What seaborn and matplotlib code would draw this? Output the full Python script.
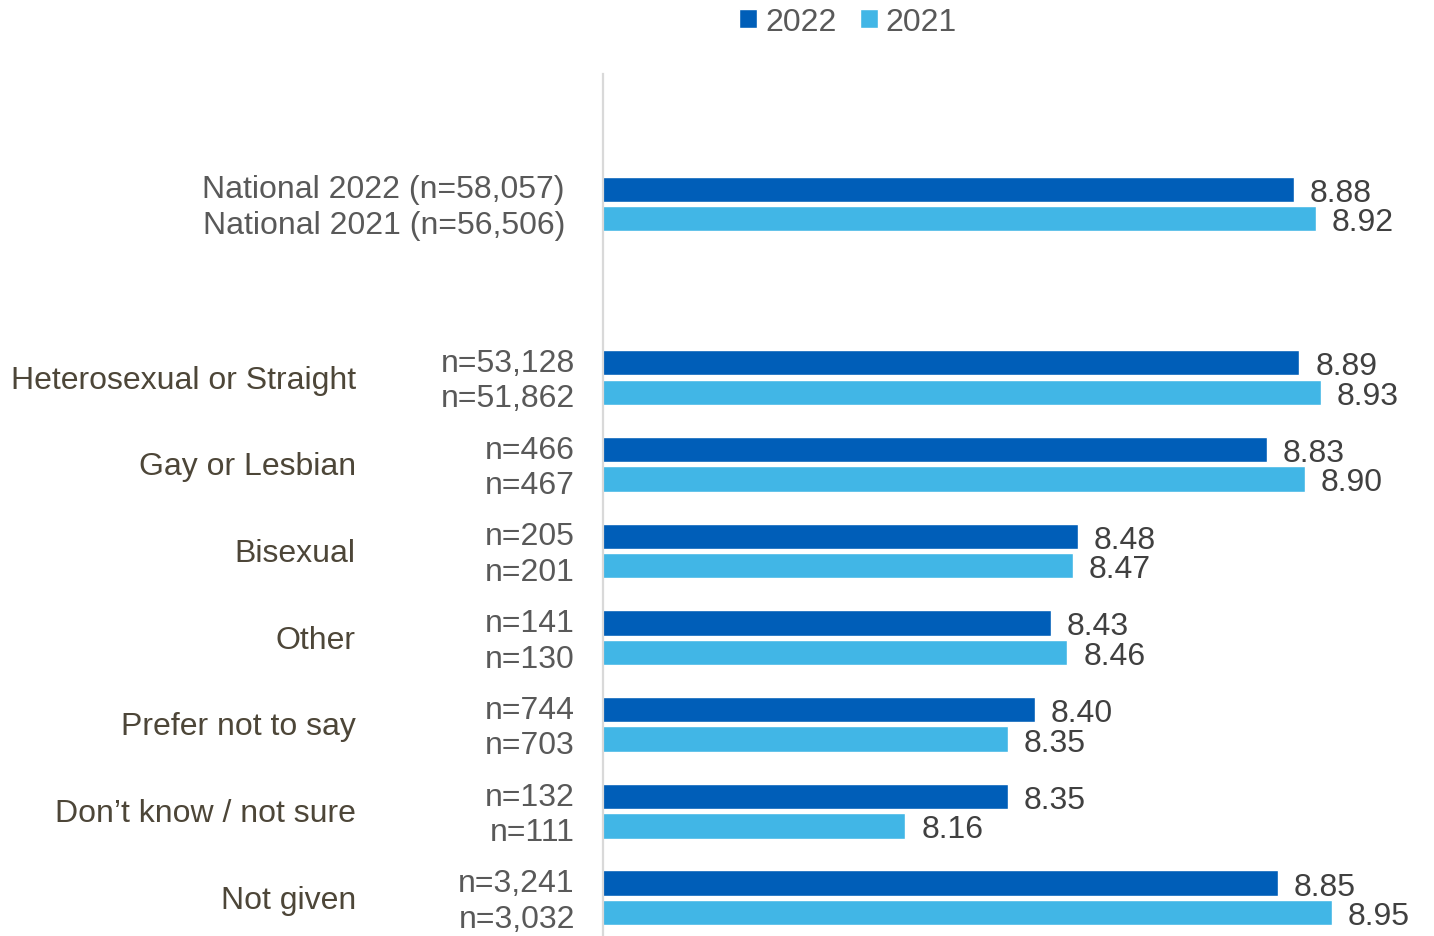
import matplotlib
matplotlib.use("Agg")
import matplotlib.pyplot as plt
import matplotlib.transforms as mtransforms
import seaborn as sns
import pandas as pd

# Groups shown on the chart (a blank slot separates the national rows)
groups = ["National", "Heterosexual or Straight", "Gay or Lesbian", "Bisexual",
          "Other", "Prefer not to say", "Don\u2019t know / not sure", "Not given"]
years = ["2022", "2021"]
scores_2022 = [8.88, 8.89, 8.83, 8.48, 8.43, 8.40, 8.35, 8.85]
scores_2021 = [8.92, 8.93, 8.90, 8.47, 8.46, 8.35, 8.16, 8.95]
n_2022 = ["58,057", "53,128", "466", "205", "141", "744", "132", "3,241"]
n_2021 = ["56,506", "51,862", "467", "201", "130", "703", "111", "3,032"]

GAP = "gap"
order = [groups[0], GAP] + groups[1:]

df = pd.DataFrame({
    "group": groups * 2,
    "year": [years[0]] * len(groups) + [years[1]] * len(groups),
    "score": scores_2022 + scores_2021,
})

DARK = "#005EB8"
LIGHT = "#41B6E6"
VAL_C = "#404040"
N_C = "#595959"
CAT_C = "#4D4638"
FONT = ["Liberation Sans", "DejaVu Sans"]

sns.set_theme(style="white")
plt.rcParams["font.family"] = FONT

fig = plt.figure(figsize=(14.34, 9.37), dpi=100)
ax = fig.add_axes([0.4205, 0.0, 0.5625, 0.92])

sns.barplot(data=df, y="group", x="score", hue="year", order=order,
            hue_order=years, palette=[DARK, LIGHT], orient="h",
            width=0.68, gap=0.14, ax=ax, saturation=1, legend=True)

ax.set_xlim(7.6, 9.094)
ax.set_ylim(8.44, -1.5)
ax.set_xlabel("")
ax.set_ylabel("")
ax.set_xticks([])
ax.set_yticks([])
for side in ["top", "right", "bottom"]:
    ax.spines[side].set_visible(False)
ax.spines["left"].set_color("#D9D9D9")
ax.spines["left"].set_linewidth(1.6)

FS = 23
pos = {g: order.index(g) for g in groups}
dx = 0.17

# value labels at the end of each bar
off_val = mtransforms.offset_copy(ax.transData, fig=fig, x=11.5, y=-2.5, units="points")
for g, v22, v21 in zip(groups, scores_2022, scores_2021):
    y = pos[g]
    ax.text(v22, y - dx, f"{v22:.2f}", transform=off_val, ha="left", va="center",
            fontsize=FS, color=VAL_C)
    ax.text(v21, y + dx, f"{v21:.2f}", transform=off_val, ha="left", va="center",
            fontsize=FS, color=VAL_C)

blend = mtransforms.blended_transform_factory(ax.transAxes, ax.transData)

# National rows: full label per year
off_nat = mtransforms.offset_copy(blend, fig=fig, x=-27.4, y=-1.5, units="points")
ax.text(0, pos[groups[0]] - 0.2, f"National {years[0]} (n={n_2022[0]})", transform=off_nat,
        ha="right", va="center", fontsize=FS, color=N_C)
ax.text(0, pos[groups[0]] + 0.22, f"National {years[1]} (n={n_2021[0]})", transform=off_nat,
        ha="right", va="center", fontsize=FS, color=N_C)

# subgroup rows: category name and sample sizes
off_n = mtransforms.offset_copy(blend, fig=fig, x=-20.2, y=-2, units="points")
off_cat = mtransforms.offset_copy(blend, fig=fig, x=-178, y=-1.5, units="points")
for g, a, b in zip(groups[1:], n_2022[1:], n_2021[1:]):
    y = pos[g]
    ax.text(0, y - 0.2, f"n={a}", transform=off_n, ha="right", va="center",
            fontsize=FS, color=N_C)
    ax.text(0, y + 0.21, f"n={b}", transform=off_n, ha="right", va="center",
            fontsize=FS, color=N_C)
    ax.text(0, y, g, transform=off_cat, ha="right", va="center",
            fontsize=FS, color=CAT_C)

handles, labels = ax.get_legend_handles_labels()
ax.get_legend().remove()
fig.legend(handles, labels, loc="upper center", bbox_to_anchor=(0.5915, 1.022), ncol=2,
           frameon=False, fontsize=FS, handlelength=0.55, handleheight=0.55,
           handletextpad=0.25, columnspacing=0.75, labelcolor=N_C)

fig.savefig("out.png", dpi=100)
